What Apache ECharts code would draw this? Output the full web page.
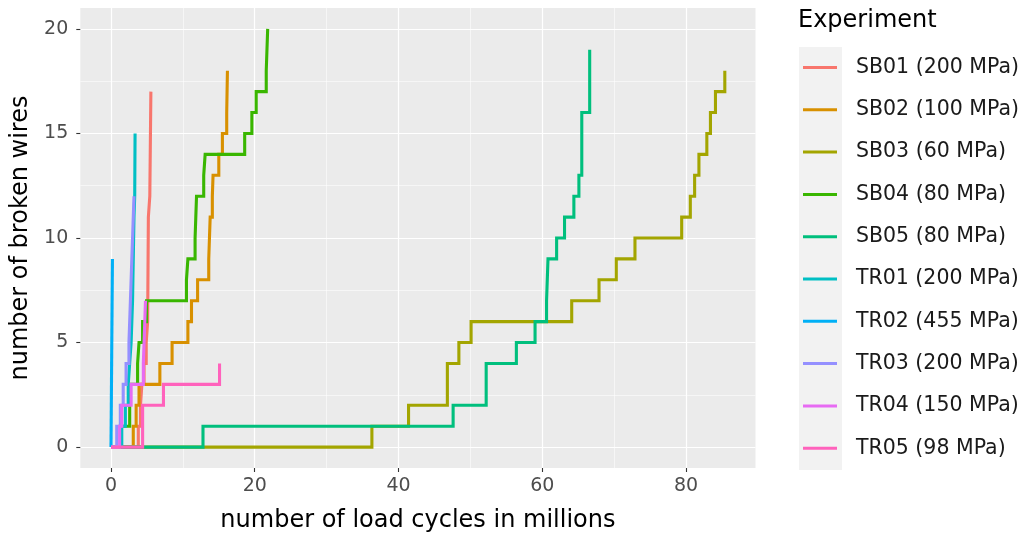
<!DOCTYPE html>
<html><head><meta charset="utf-8">
<script src="https://cdn.jsdelivr.net/npm/echarts@6/dist/echarts.min.js"></script>
<style>html,body{margin:0;padding:0;background:#fff}#c{width:1028px;height:535px}</style>
</head><body><div id="c"></div>
<script>
// ---- data (x = load cycles in millions, y = broken wires) ----
const seriesNames = ['SB01 (200 MPa)','SB02 (100 MPa)','SB03 (60 MPa)','SB04 (80 MPa)','SB05 (80 MPa)',
  'TR01 (200 MPa)','TR02 (455 MPa)','TR03 (200 MPa)','TR04 (150 MPa)','TR05 (98 MPa)'];
const SB01 = [[0,0],[3.8,1],[4.1,2],[4.3,3],[4.6,4],[4.9,5],[5.1,6],[5.2,11],[5.4,12],[5.55,17]];
const SB02 = [[0,0],[3.1,1],[3.5,2],[3.9,3],[6.8,4],[8.5,5],[10.7,6],[11.2,7],[12.05,8],[13.6,9],[13.7,10],[13.8,11],[14.1,12],[14.2,13],[15.0,14],[15.5,15],[16.1,16],[16.15,17],[16.2,18]];
const SB03 = [[0,0],[36.3,1],[41.4,2],[46.8,4],[48.4,5],[50.1,6],[64.1,7],[67.9,8],[70.3,9],[72.9,10],[79.4,11],[80.6,12],[81.2,13],[81.8,14],[82.9,15],[83.4,16],[84.1,17],[85.4,18]];
const SB04 = [[0,0],[1.35,1],[2.6,3],[3.7,4],[3.9,5],[4.4,6],[4.95,7],[10.5,8],[10.7,9],[11.7,10],[11.8,11],[11.9,12],[12.9,13],[13.1,14],[18.6,15],[19.6,16],[20.2,17],[21.6,18],[21.7,19],[21.8,20]];
const SB05 = [[0,0],[12.8,1],[47.6,2],[52.2,4],[56.4,5],[59.0,6],[60.6,7],[60.8,9],[62.0,10],[63.1,11],[64.4,12],[65.1,13],[65.5,16],[66.6,19]];
const TR01 = [[0,0],[1.5,1],[2.0,2],[2.4,3],[2.6,4],[2.8,5],[2.9,6],[3.0,7],[3.05,8],[3.1,9],[3.15,10],[3.2,11],[3.3,12],[3.35,15]];
const TR02 = [[0,0],[0.2,9]];
const TR03 = [[0,0],[0.8,1],[1.3,2],[1.7,3],[2.1,4],[2.5,5],[2.6,6],[2.7,7],[2.8,8],[2.9,9],[3.0,10],[3.1,11],[3.2,12]];
const TR04 = [[0,0],[1.2,1],[1.5,2],[2.8,3],[4.5,4],[4.6,5],[4.7,6],[4.8,7]];
const TR05 = [[0,0],[4.4,2],[7.3,3],[15.1,4]];
const seriesData = [SB01,SB02,SB03,SB04,SB05,TR01,TR02,TR03,TR04,TR05];
const xTicks = [0,20,40,60,80];
const xMinor = [10,30,50,70];
const yTicks = [0,5,10,15,20];
const yMinor = [2.5,7.5,12.5,17.5];

const colors = ['#F8766D','#D89000','#A3A500','#39B600','#00BF7D','#00BFC4','#00B0F6','#9590FF','#E76BF3','#FF62BC'];
const FONT = 'DejaVu Sans';
const chart = echarts.init(document.getElementById('c'), null, {renderer:'canvas'});
const xr = [-4.27, 89.67], yr = [-1, 21];

const majorAxisX = {
  type:'value', min:xr[0], max:xr[1], position:'bottom',
  axisLine:{show:false, onZero:false},
  axisTick:{show:true, length:4, lineStyle:{color:'#333', width:1.1}, customValues:xTicks},
  axisLabel:{show:true, customValues:xTicks, color:'#4D4D4D', fontFamily:FONT, fontSize:19, margin:9},
  splitLine:{show:true, lineStyle:{color:'#fff', width:1.2}},
  name:'number of load cycles in millions', nameLocation:'middle', nameGap:41,
  nameTextStyle:{color:'#000', fontFamily:FONT, fontSize:24}
};
const minorAxisX = {
  type:'value', min:xr[0], max:xr[1], position:'bottom',
  axisLine:{show:false, onZero:false}, axisTick:{show:false, customValues:xMinor},
  axisLabel:{show:false, customValues:xMinor},
  splitLine:{show:true, lineStyle:{color:'#fff', width:0.55}}
};
const majorAxisY = {
  type:'value', min:yr[0], max:yr[1], position:'left',
  axisLine:{show:false, onZero:false},
  axisTick:{show:true, length:4, lineStyle:{color:'#333', width:1.1}, customValues:yTicks},
  axisLabel:{show:true, customValues:yTicks, color:'#4D4D4D', fontFamily:FONT, fontSize:19, margin:12},
  splitLine:{show:true, lineStyle:{color:'#fff', width:1.2}},
  name:'number of broken wires', nameLocation:'middle', nameGap:44,
  nameTextStyle:{color:'#000', fontFamily:FONT, fontSize:24}
};
const minorAxisY = {
  type:'value', min:yr[0], max:yr[1], position:'left',
  axisLine:{show:false, onZero:false}, axisTick:{show:false, customValues:yMinor},
  axisLabel:{show:false, customValues:yMinor},
  splitLine:{show:true, lineStyle:{color:'#fff', width:0.55}}
};

const series = seriesData.map((d,i)=>({
  name: seriesNames[i], type:'line', step:'end', data:d,
  xAxisIndex:0, yAxisIndex:0,
  showSymbol:false, symbol:'none', animation:false,
  lineStyle:{color:colors[i], width:3.1, cap:'butt', join:'miter'},
  itemStyle:{color:colors[i]}
}));

chart.setOption({
  animation:false,
  backgroundColor:'#fff',
  grid:{left:80.3, right:272.5, top:8, bottom:67, show:true, backgroundColor:'#EBEBEB', borderWidth:0,
        containLabel:false, outerBoundsMode:'none'},
  xAxis:[majorAxisX, minorAxisX],
  yAxis:[majorAxisY, minorAxisY],
  title:{text:'Experiment', left:798, top:9, padding:0,
    textStyle:{fontFamily:FONT, fontSize:24, fontWeight:'normal', color:'#000'}},
  graphic:[{type:'rect', z:0, shape:{x:799, y:47, width:43, height:423}, style:{fill:'#F2F2F2'}}],
  legend:{
    orient:'vertical', left:803, top:55.5, padding:0,
    itemWidth:34, itemHeight:3, itemGap:18.3, icon:'rect',
    data:seriesNames,
    textStyle:{fontFamily:FONT, fontSize:20.5, color:'#1a1a1a', lineHeight:24, padding:[0,0,0,14]}
  },
  series
});
</script></body></html>
